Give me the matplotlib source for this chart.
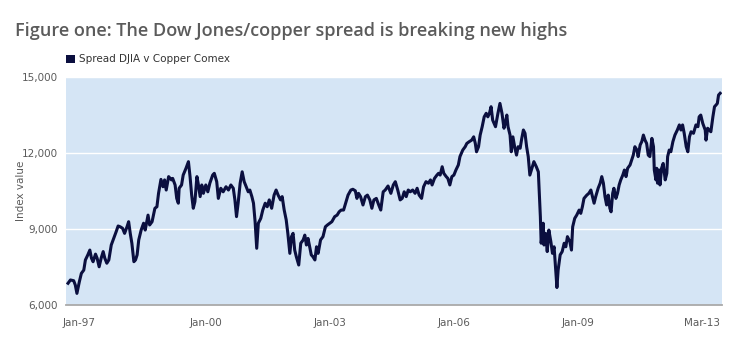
import matplotlib
matplotlib.use("Agg")
import matplotlib.pyplot as plt
from matplotlib.patches import Rectangle

# spread DJIA v Copper Comex (decimal year, index value)
years = [
    1997.05, 1997.11, 1997.19, 1997.23, 1997.27, 1997.33, 1997.38, 1997.44, 1997.48, 1997.54,
    1997.59, 1997.63, 1997.67, 1997.73, 1997.77, 1997.82, 1997.87, 1997.92, 1997.96, 1998.01,
    1998.06, 1998.12, 1998.18, 1998.24, 1998.29, 1998.34, 1998.40, 1998.45, 1998.51, 1998.55,
    1998.59, 1998.63, 1998.68, 1998.72, 1998.76, 1998.80, 1998.86, 1998.92, 1998.96, 1999.03,
    1999.07, 1999.13, 1999.20, 1999.25, 1999.29, 1999.35, 1999.40, 1999.44, 1999.48, 1999.54,
    1999.61, 1999.64, 1999.70, 1999.74, 1999.78, 1999.80, 1999.86, 1999.90, 1999.97, 2000.03,
    2000.07, 2000.11, 2000.15, 2000.19, 2000.24, 2000.27, 2000.32, 2000.36, 2000.40, 2000.46,
    2000.51, 2000.56, 2000.63, 2000.67, 2000.73, 2000.77, 2000.83, 2000.89, 2000.96, 2001.02,
    2001.08, 2001.14, 2001.18, 2001.22, 2001.26, 2001.31, 2001.36, 2001.41, 2001.46, 2001.51,
    2001.55, 2001.60, 2001.64, 2001.68, 2001.72, 2001.76, 2001.82, 2001.87, 2001.93, 2001.98,
    2002.03, 2002.09, 2002.15, 2002.20, 2002.25, 2002.31, 2002.35, 2002.40, 2002.45, 2002.49,
    2002.54, 2002.58, 2002.62, 2002.66, 2002.70, 2002.76, 2002.81, 2002.87, 2002.91, 2002.95,
    2002.99, 2003.03, 2003.07, 2003.11, 2003.16, 2003.20, 2003.24, 2003.30, 2003.36, 2003.42,
    2003.47, 2003.53, 2003.58, 2003.65, 2003.71, 2003.76, 2003.81, 2003.87, 2003.92, 2003.98,
    2004.05, 2004.10, 2004.16, 2004.20, 2004.24, 2004.29, 2004.35, 2004.41, 2004.46, 2004.52,
    2004.57, 2004.62, 2004.68, 2004.74, 2004.79, 2004.85, 2004.90, 2004.97, 2005.04, 2005.10,
    2005.15, 2005.21, 2005.27, 2005.32, 2005.37, 2005.42, 2005.47, 2005.52, 2005.58, 2005.64,
    2005.69, 2005.74, 2005.80, 2005.85, 2005.91, 2005.97, 2006.02, 2006.06, 2006.12, 2006.18,
    2006.22, 2006.26, 2006.31, 2006.35, 2006.41, 2006.45, 2006.50, 2006.55, 2006.60, 2006.65,
    2006.71, 2006.75, 2006.82, 2006.88, 2006.92, 2006.98, 2007.04, 2007.09, 2007.13, 2007.16,
    2007.21, 2007.25, 2007.30, 2007.35, 2007.40, 2007.44, 2007.48, 2007.52, 2007.56, 2007.63,
    2007.69, 2007.74, 2007.79, 2007.84, 2007.88, 2007.91, 2007.94, 2007.99, 2008.02, 2008.06,
    2008.11, 2008.15, 2008.19, 2008.24, 2008.28, 2008.32, 2008.36, 2008.40, 2008.44, 2008.48,
    2008.53, 2008.58, 2008.64, 2008.69, 2008.71, 2008.74, 2008.76, 2008.81, 2008.83, 2008.87,
    2008.91, 2008.95, 2009.00, 2009.04, 2009.08, 2009.12, 2009.15, 2009.18, 2009.23, 2009.28,
    2009.33, 2009.37, 2009.41, 2009.47, 2009.51, 2009.54, 2009.59, 2009.64, 2009.70, 2009.74,
    2009.78, 2009.82, 2009.89, 2009.94, 2009.99, 2010.03, 2010.07, 2010.11, 2010.17, 2010.22,
    2010.26, 2010.30, 2010.34, 2010.38, 2010.42, 2010.46, 2010.49, 2010.53, 2010.56, 2010.61,
    2010.65, 2010.69, 2010.73, 2010.78, 2010.82, 2010.86, 2010.90, 2010.96, 2011.00, 2011.04,
    2011.08, 2011.13, 2011.16, 2011.21, 2011.25, 2011.29, 2011.33, 2011.37, 2011.41, 2011.45,
    2011.50, 2011.54, 2011.56, 2011.60, 2011.62, 2011.64, 2011.68, 2011.70, 2011.74, 2011.78,
    2011.83, 2011.87, 2011.89, 2011.93, 2011.97, 2012.02, 2012.07, 2012.13, 2012.18, 2012.22,
    2012.26, 2012.30, 2012.35, 2012.39, 2012.43, 2012.47, 2012.53, 2012.59, 2012.64, 2012.67,
    2012.71, 2012.76, 2012.82, 2012.84, 2012.88, 2012.92, 2012.96, 2013.01, 2013.05, 2013.09,
    2013.12, 2013.15, 2013.19,
]
spread = [
    6870, 7000, 6970, 6800, 6470, 6930, 7260, 7390, 7790, 7990,
    8180, 7860, 7720, 8020, 7860, 7520, 7860, 8120, 7860, 7660,
    7790, 8380, 8640, 8900, 9130, 9100, 9040, 8840, 9100, 9300,
    8840, 8450, 7720, 7790, 7990, 8580, 8970, 9240, 8970, 9560,
    9170, 9300, 9830, 9890, 10420, 10970, 10680, 10950, 10550, 11080,
    10950, 11010, 10750, 10220, 10030, 10620, 10750, 11140, 11410, 11670,
    11080, 10350, 9830, 10090, 11080, 10820, 10290, 10750, 10420, 10750,
    10480, 10820, 11140, 11210, 10880, 10220, 10620, 10480, 10680, 10550,
    10750, 10620, 10160, 9500, 10030, 10820, 11270, 10880, 10680, 10480,
    10550, 10290, 10030, 9300, 8250, 9240, 9430, 9760, 10030, 9890,
    10160, 9830, 10350, 10550, 10350, 10160, 10290, 9760, 9370, 8840,
    8050, 8710, 8840, 8180, 7920, 7590, 8450, 8580, 8770, 8380,
    8640, 8310, 7990, 7920, 7790, 8310, 8050, 8580, 8710, 9100,
    9170, 9240, 9300, 9500, 9560, 9690, 9760, 9760, 10030, 10350,
    10550, 10580, 10520, 10220, 10420, 10290, 9960, 10290, 10350, 10160,
    9830, 10160, 10220, 9960, 9760, 10480, 10550, 10710, 10420, 10750,
    10880, 10550, 10160, 10220, 10480, 10290, 10550, 10480, 10550, 10420,
    10620, 10350, 10220, 10680, 10880, 10820, 10950, 10750, 11010, 11140,
    11210, 11140, 11470, 11210, 11080, 11010, 10750, 11080, 11140, 11340,
    11540, 11870, 12130, 12260, 12390, 12460, 12520, 12650, 12390, 12060,
    12260, 12720, 13050, 13440, 13580, 13440, 13580, 13840, 13310, 13050,
    13580, 13970, 13580, 12990, 13250, 13510, 13050, 12720, 12060, 12650,
    12200, 11930, 12260, 12200, 12590, 12920, 12790, 12260, 11870, 11140,
    11410, 11670, 11470, 11270, 10550, 9500, 8450, 9240, 8380, 8840,
    8120, 8970, 8510, 8050, 8310, 7390, 6700, 7390, 7990, 8120,
    8450, 8310, 8710, 8510, 8180, 9100, 9430, 9560, 9760, 9630,
    9890, 10220, 10350, 10420, 10550, 10290, 10030, 10290, 10620, 10820,
    11080, 10820, 10290, 9960, 10350, 9830, 9690, 10420, 10620, 10220,
    10420, 10750, 10950, 11140, 11340, 11080, 11410, 11540, 11740, 11930,
    12260, 12130, 11870, 12330, 12460, 12720, 12520, 12390, 11930, 11870,
    12590, 12260, 11340, 10950, 11410, 10820, 11340, 10750, 11410, 11600,
    10950, 11210, 11870, 12130, 12060, 12460, 12720, 12920, 13120, 12920,
    13120, 12790, 12260, 12060, 12650, 12850, 12790, 13120, 13050, 13440,
    13510, 13180, 12920, 12520, 12990, 12920, 12850, 13440, 13840, 13910,
    13970, 14300, 14370,
]

tick_labels = ["Jan-97", "Jan-00", "Jan-03", "Jan-06", "Jan-09", "Mar-13"]
tick_pos = [1997.32, 2000.47, 2003.53, 2006.60, 2009.67, 2012.74]
y_ticks = [6000, 9000, 12000, 15000]

navy = "#0b0f3f"
grey = "#5b5b5b"

fig = plt.figure(figsize=(7.4, 3.54), dpi=100)
ax = fig.add_axes([0.0892, 0.1376, 0.8865, 0.644])
ax.set_facecolor("#d5e5f5")

ax.plot(years, spread, color=navy, lw=2.2, solid_joinstyle="round")

ax.set_xlim(1997.0, 2013.236)
ax.set_ylim(6000, 15000)
ax.set_yticks(y_ticks)
ax.set_yticklabels([f"{v:,}" for v in y_ticks])
ax.set_xticks(tick_pos)
ax.set_xticklabels(tick_labels)
ax.tick_params(length=0, labelsize=7.5, colors=grey, pad=6)
ax.tick_params(axis="x", pad=9)
ax.grid(axis="y", color="white", lw=1)
ax.set_axisbelow(True)
for s in ["top", "right", "left"]:
    ax.spines[s].set_visible(False)
ax.spines["bottom"].set_color("#a9a9a9")
ax.spines["bottom"].set_linewidth(1.3)
ax.set_ylabel("Index value", fontsize=7.5, color=grey)
ax.yaxis.set_label_coords(-0.061, 0.5)

fig.text(0.02, 0.913, "Figure one: The Dow Jones/copper spread is breaking new highs",
         fontsize=13, color=grey, va="center", ha="left",
         family=["Open Sans", "DejaVu Sans"], weight="semibold")

# legend
fig.patches.append(Rectangle((0.0892, 0.822), 0.0115, 0.024, transform=fig.transFigure,
                             facecolor=navy, edgecolor="none"))
fig.text(0.107, 0.834, "Spread DJIA v Copper Comex", fontsize=7.5, color="#333333",
         va="center", ha="left")

fig.savefig("out.png", dpi=100)
